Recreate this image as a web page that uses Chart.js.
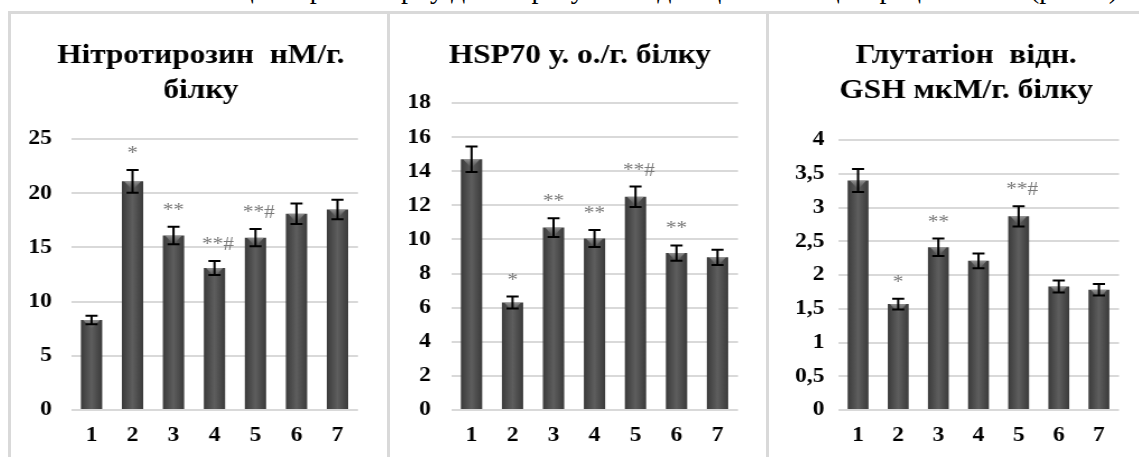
<!DOCTYPE html>
<html>
<head>
<meta charset="utf-8">
<script src="https://cdn.jsdelivr.net/npm/chart.js@4.4.1/dist/chart.umd.min.js"></script>
<style>
  html, body { margin: 0; padding: 0; background: #fff; width: 1139px; height: 457px; overflow: hidden; position: relative; }
  #topline { position: absolute; right: 14px; top: -25px; font: 28px/28px "Liberation Serif", serif; white-space: nowrap; color: #000; }
  .panel { position: absolute; top: 11px; height: 460px; border-left: 3px solid #d9d9d9; border-top: 3px solid #d9d9d9; box-sizing: border-box; }
  canvas { position: absolute; top: 1px; left: 0; transform: scaleX(1.12); transform-origin: 0 0; }
</style>
</head>
<body>
<div id="topline">цитопротекторну дію за рахунок підвищення концентрації HSP70 (рис. 2).</div>
<div class="panel" style="left:8px;width:383px"><canvas id="c1"></canvas></div>
<div class="panel" style="left:387px;width:383px"><canvas id="c2"></canvas></div>
<div class="panel" style="left:766px;width:400px"><canvas id="c3"></canvas></div>
<script>
// ---------- DATA ----------
const categories = ['1', '2', '3', '4', '5', '6', '7'];

const nitroTitle = ['Нітротирозин  нМ/г.', 'білку'];
const nitroValues = [8.3, 21.1, 16.1, 13.1, 15.9, 18.1, 18.5];
const nitroErrors = [0.4, 1.05, 0.8, 0.65, 0.8, 0.95, 0.9];
const nitroMarks = ['', '*', '**', '**#', '**#', '', ''];
const nitroTicks = [0, 5, 10, 15, 20, 25];
const nitroTickLabels = ['0', '5', '10', '15', '20', '25'];

const hspTitle = ['HSP70 у. о./г. білку'];
const hspValues = [14.7, 6.3, 10.7, 10.05, 12.5, 9.2, 8.95];
const hspErrors = [0.75, 0.35, 0.55, 0.5, 0.6, 0.45, 0.45];
const hspMarks = ['', '*', '**', '**', '**#', '**', ''];
const hspTicks = [0, 2, 4, 6, 8, 10, 12, 14, 16, 18];
const hspTickLabels = ['0', '2', '4', '6', '8', '10', '12', '14', '16', '18'];

const gshTitle = ['Глутатіон  відн.', 'GSH мкМ/г. білку'];
const gshValues = [3.4, 1.57, 2.41, 2.21, 2.87, 1.83, 1.78];
const gshErrors = [0.17, 0.08, 0.13, 0.11, 0.15, 0.09, 0.085];
const gshMarks = ['', '*', '**', '', '**#', '', ''];
const gshTicks = [0, 0.5, 1, 1.5, 2, 2.5, 3, 3.5, 4];
const gshTickLabels = ['0', '0,5', '1', '1,5', '2', '2,5', '3', '3,5', '4'];

// ---------- DRAWING ----------
const SERIF = '"Liberation Serif", "Times New Roman", serif';
const BAR_PCT = 0.52;

const decorPlugin = {
  id: 'decor',
  afterDatasetsDraw(chart) {
    const o = chart.options.plugins.decor;
    const ctx = chart.ctx;
    const meta = chart.getDatasetMeta(0);
    const y = chart.scales.y;
    ctx.save();
    meta.data.forEach((bar, i) => {
      const v = o.values[i], e = o.errors[i];
      const half = bar.width / 2;
      // bevel highlight at bar top
      const g = ctx.createLinearGradient(0, bar.y, 0, bar.y + 9);
      g.addColorStop(0, 'rgba(170,170,170,0.75)');
      g.addColorStop(1, 'rgba(120,120,120,0.0)');
      ctx.fillStyle = g;
      ctx.beginPath();
      ctx.moveTo(bar.x - half + 2, bar.y);
      ctx.lineTo(bar.x + half - 2, bar.y);
      ctx.lineTo(bar.x, bar.y + 9);
      ctx.closePath();
      ctx.fill();
      // error bar
      const yt = y.getPixelForValue(v + e), yb = y.getPixelForValue(v - e);
      ctx.strokeStyle = '#000';
      ctx.lineWidth = 2;
      ctx.beginPath();
      ctx.moveTo(bar.x, yt); ctx.lineTo(bar.x, yb);
      ctx.moveTo(bar.x - 5.4, yt); ctx.lineTo(bar.x + 5.4, yt);
      ctx.moveTo(bar.x - 5.4, yb); ctx.lineTo(bar.x + 5.4, yb);
      ctx.stroke();
      // significance mark
      const m = o.marks[i];
      if (m) {
        ctx.fillStyle = '#7a7a7a';
        ctx.font = '19px ' + SERIF;
        ctx.textAlign = 'center';
        ctx.textBaseline = 'alphabetic';
        ctx.fillText(m, bar.x + (m.length > 2 ? 3 : 0), yt - 11);
      }
    });
    ctx.restore();
  }
};

function barFill(context) {
  const chart = context.chart;
  const xs = chart.scales && chart.scales.x;
  if (!xs || context.dataIndex === undefined) return '#4a4a4a';
  const cx = xs.getPixelForValue(context.dataIndex);
  const w = (xs.getPixelForValue(1) - xs.getPixelForValue(0)) * BAR_PCT;
  if (!isFinite(cx) || !isFinite(w) || w <= 0) return '#4a4a4a';
  const g = chart.ctx.createLinearGradient(cx - w / 2, 0, cx + w / 2, 0);
  g.addColorStop(0, '#3a3a3a');
  g.addColorStop(0.5, '#5e5e5e');
  g.addColorStop(1, '#3a3a3a');
  return g;
}

function makeChart(id, cfg) {
  const canvas = document.getElementById(id);
  canvas.width = cfg.width; canvas.height = 445;
  canvas.style.width = cfg.width + 'px'; canvas.style.height = '445px';
  return new Chart(canvas, {
    type: 'bar',
    data: {
      labels: categories,
      datasets: [{
        data: cfg.values,
        backgroundColor: barFill,
        borderWidth: 0,
        barPercentage: BAR_PCT,
        categoryPercentage: 1,
        yAxisID: 'y'
      }]
    },
    plugins: [decorPlugin],
    options: {
      responsive: false,
      animation: false,
      devicePixelRatio: 1,
      layout: { padding: { left: 0, right: 0, top: 0, bottom: 10 } },
      plugins: {
        legend: { display: false },
        tooltip: { enabled: false },
        title: {
          display: true,
          text: cfg.title,
          color: '#000',
          font: { family: SERIF, size: 28, weight: 'bold', lineHeight: 1.25 },
          padding: { top: 23, bottom: cfg.titleBottom }
        },
        decor: { values: cfg.values, errors: cfg.errors, marks: cfg.marks }
      },
      scales: {
        x: {
          grid: { display: false, drawTicks: false },
          border: { display: false },
          ticks: { color: '#000', padding: 13, font: { family: SERIF, size: 21, weight: 'bold' } },
          afterFit(s) { s.height = 40; }
        },
        y: {
          position: 'left',
          min: cfg.ticks[0],
          max: cfg.ticks[cfg.ticks.length - 1],
          afterBuildTicks(s) { s.ticks = cfg.ticks.map(v => ({ value: v })); },
          grid: { color: '#d9d9d9', lineWidth: 2, drawTicks: false },
          border: { display: false },
          ticks: {
            color: '#000', padding: cfg.tickPad,
            font: { family: SERIF, size: 21, weight: 'bold' },
            callback: (v) => cfg.tickLabels[cfg.ticks.indexOf(v)]
          },
          afterFit(s) { s.width = cfg.left; }
        },
        yRight: {
          type: 'linear',
          axis: 'y',
          position: 'right',
          min: 0, max: 1,
          grid: { display: false, drawTicks: false },
          border: { display: false },
          ticks: { display: false },
          afterFit(s) { s.width = cfg.right; }
        }
      }
    }
  });
}

makeChart('c1', { width: 339, values: nitroValues, errors: nitroErrors, marks: nitroMarks,
  ticks: nitroTicks, tickLabels: nitroTickLabels, title: nitroTitle,
  left: 53.6, right: 29.2, titleBottom: 31, tickPad: 17 });
makeChart('c2', { width: 339, values: hspValues, errors: hspErrors, marks: hspMarks,
  ticks: hspTicks, tickLabels: hspTickLabels, title: hspTitle,
  left: 54.5, right: 28.3, titleBottom: 30, tickPad: 18 });
makeChart('c3', { width: 352, values: gshValues, errors: gshErrors, marks: gshMarks,
  ticks: gshTicks, tickLabels: gshTickLabels, title: gshTitle,
  left: 61.6, right: 39.5, titleBottom: 32, tickPad: 12 });
</script>
</body>
</html>
